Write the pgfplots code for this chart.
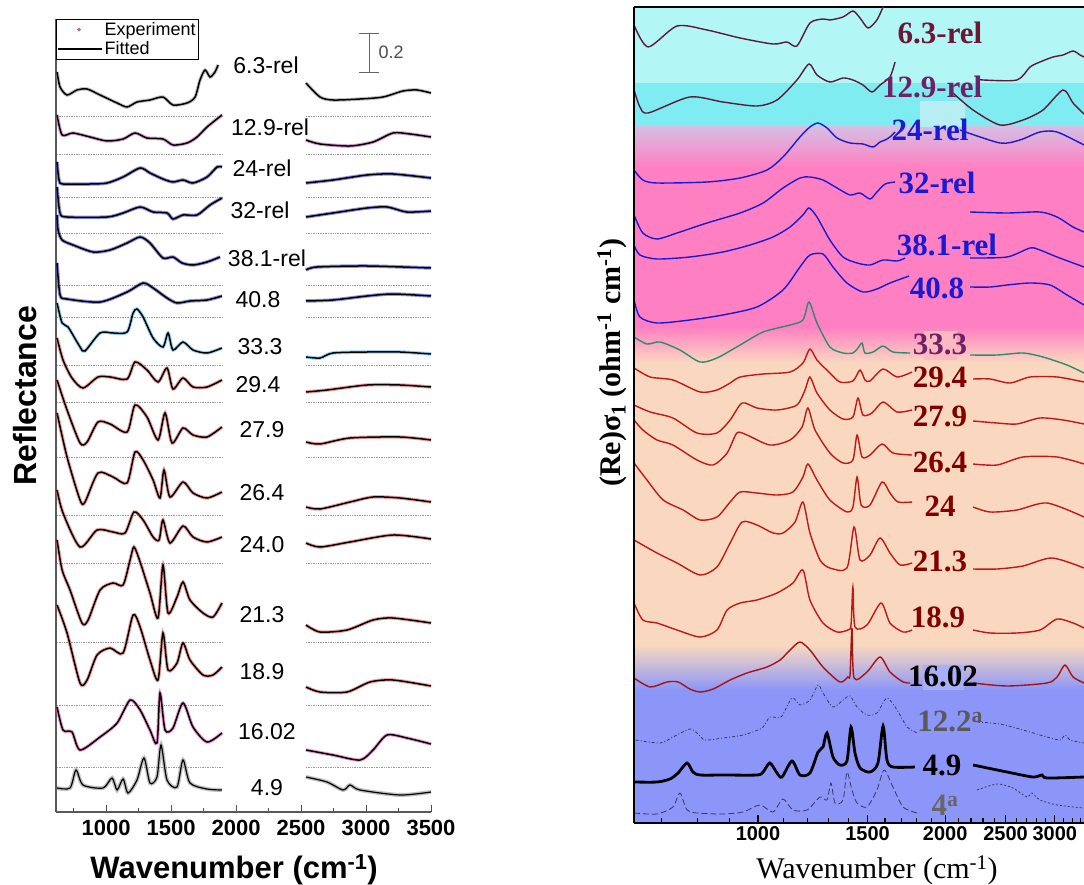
\documentclass[border=0pt]{standalone}
\usepackage{fontspec}
\usepackage{pgfplots}
\usepackage{pgfplotstable}
\pgfplotsset{compat=1.18}
\newfontfamily\arial{Liberation Sans}
\newfontfamily\tnr{Liberation Serif}

% background bands (right panel)
\definecolor{cyanA}{RGB}{178,246,246}
\definecolor{cyanB}{RGB}{126,236,240}
\definecolor{lav}{RGB}{214,190,226}
\definecolor{pinkbg}{RGB}{255,128,194}
\definecolor{peach}{RGB}{250,216,192}
\definecolor{bluebg}{RGB}{140,150,248}
% curve colours
\definecolor{maroon}{RGB}{92,26,58}
\definecolor{plum}{RGB}{112,32,100}
\definecolor{rblue}{RGB}{26,26,210}
\definecolor{rgreen}{RGB}{46,139,110}
\definecolor{rred}{RGB}{192,24,24}
\definecolor{dred}{RGB}{128,0,0}
\definecolor{slate}{RGB}{55,55,95}
\definecolor{expgray}{RGB}{150,150,150}
\definecolor{exppink}{RGB}{190,100,170}
\definecolor{expblue}{RGB}{70,70,200}
\definecolor{expcyan}{RGB}{80,180,230}
\definecolor{expred}{RGB}{230,100,100}
\definecolor{expmag}{RGB}{230,90,180}

\newcommand\lfont{\arial\fontsize{23}{23}\selectfont}
\newcommand\rfont{\tnr\bfseries\fontsize{31}{31}\selectfont}

% ---- left panel: reflectance (x in cm^-1, y in offset units) ----
\pgfplotstableread{
w y
623 -72
646 -87
700 -95
777 -90
854 -89
954 -95
1085 -103
1162 -107
1238 -102
1338 -100
1438 -97
1515 -105
1623 -103
1685 -97
1723 -80
1762 -70
1800 -77
1838 -72
1862 -65
nan nan
2538 -83
2646 -97
2746 -100
2954 -99
3131 -97
3285 -91
3392 -90
3500 -93
}\tA
\pgfplotstableread{
w y
623 -115
662 -135
746 -133
877 -137
1008 -141
1131 -139
1223 -133
1315 -138
1438 -139
1515 -145
1623 -143
1700 -137
1777 -127
1892 -115
nan nan
2538 -140
2646 -144
2877 -146
3054 -142
3208 -133
3338 -134
3500 -137
}\tB
\pgfplotstableread{
w y
623 -162
638 -180
669 -184
877 -184
1008 -183
1131 -177
1262 -168
1338 -173
1438 -179
1515 -182
1592 -180
1669 -183
1777 -177
1854 -167
1892 -167
nan nan
2538 -183
2746 -180
3008 -175
3208 -174
3500 -178
}\tC
\pgfplotstableread{
w y
623 -187
646 -213
700 -217
1008 -217
1131 -213
1262 -207
1362 -212
1469 -213
1515 -219
1592 -215
1700 -215
1800 -205
1892 -198
nan nan
2538 -217
2746 -213
3008 -208
3162 -207
3315 -212
3500 -211
}\tD
\pgfplotstableread{
w y
623 -215
631 -230
662 -240
746 -245
900 -252
1031 -250
1162 -243
1262 -237
1338 -243
1438 -258
1515 -257
1585 -263
1669 -265
1777 -262
1877 -257
nan nan
2538 -270
2623 -267
3008 -266
3500 -268
}\tE
\pgfplotstableread{
w y
623 -263
646 -295
700 -299
954 -302
1162 -292
1285 -283
1362 -288
1469 -298
1546 -303
1646 -301
1777 -300
1892 -296
nan nan
2538 -301
2746 -300
3008 -296
3208 -294
3500 -296
}\tF
\pgfplotstableread{
w y
623 -303
662 -323
708 -327
800 -347
838 -351
954 -333
1054 -333
1162 -332
1208 -313
1238 -309
1285 -317
1362 -338
1438 -347
1477 -333
1515 -350
1592 -342
1669 -350
1777 -353
1892 -348
nan nan
2538 -357
2646 -358
2746 -353
3008 -352
3262 -352
3500 -354
}\tG
\pgfplotstableread{
w y
623 -338
669 -360
738 -378
823 -388
938 -377
1031 -377
1162 -379
1223 -362
1315 -370
1400 -382
1469 -368
1515 -389
1592 -378
1669 -387
1777 -387
1892 -380
nan nan
2538 -392
2700 -390
3008 -385
3262 -385
3500 -387
}\tH
\pgfplotstableread{
w y
623 -380
700 -410
800 -443
854 -442
938 -422
1031 -424
1162 -432
1223 -405
1315 -417
1400 -440
1454 -413
1508 -443
1592 -428
1669 -435
1777 -437
1892 -427
nan nan
2538 -442
2646 -444
2877 -438
3262 -437
3500 -440
}\tI
\pgfplotstableread{
w y
623 -413
700 -457
800 -500
838 -502
938 -473
1054 -477
1162 -483
1223 -452
1285 -460
1362 -480
1415 -498
1446 -470
1492 -497
1592 -482
1669 -493
1777 -498
1892 -492
nan nan
2538 -507
2646 -509
2877 -502
3054 -497
3262 -498
3500 -502
}\tJ
\pgfplotstableread{
w y
623 -490
669 -513
800 -547
931 -530
1054 -532
1146 -533
1215 -512
1285 -520
1362 -537
1408 -540
1438 -520
1492 -543
1592 -526
1669 -537
1777 -542
1892 -537
nan nan
2538 -543
2646 -547
2877 -542
3208 -535
3500 -539
}\tK
\pgfplotstableread{
w y
623 -540
662 -570
723 -590
815 -623
862 -620
954 -590
1054 -583
1131 -585
1185 -560
1215 -547
1262 -562
1338 -593
1400 -618
1438 -565
1477 -613
1546 -597
1592 -582
1646 -600
1746 -613
1823 -617
1892 -603
nan nan
2538 -625
2646 -632
2854 -630
3054 -620
3208 -618
3500 -623
}\tL
\pgfplotstableread{
w y
623 -605
700 -633
800 -683
854 -680
931 -655
1031 -648
1131 -653
1208 -615
1262 -627
1338 -660
1400 -680
1438 -633
1477 -670
1546 -663
1592 -643
1646 -660
1746 -675
1823 -675
1892 -667
nan nan
2538 -687
2646 -692
2854 -692
3031 -682
3208 -680
3500 -686
}\tM
\pgfplotstableread{
w y
623 -707
669 -730
738 -732
800 -750
954 -737
1085 -723
1185 -700
1262 -710
1338 -730
1392 -743
1415 -693
1454 -730
1515 -728
1592 -703
1669 -727
1777 -742
1892 -733
nan nan
2538 -750
2746 -755
2954 -760
3054 -750
3162 -735
3315 -738
3500 -744
}\tN
\pgfplotstableread{
w y
623 -788
723 -788
769 -770
823 -785
977 -788
1046 -778
1085 -790
1131 -779
1169 -793
1238 -780
1292 -758
1338 -783
1392 -777
1423 -745
1469 -780
1546 -787
1592 -760
1646 -783
1777 -789
1892 -790
nan nan
2538 -777
2700 -782
2823 -790
2877 -785
2954 -790
3262 -795
3500 -792
}\tO

\pgfplotsset{
  expl/.style={line width=3.5pt, opacity=0.6, forget plot, smooth, tension=0.45},
  fitl/.style={black, line width=1.5pt, forget plot, smooth, tension=0.45},
  rc/.style={line width=1.4pt, smooth, tension=0.45},
}

\begin{document}
\begin{tikzpicture}
\useasboundingbox (0pt,0pt) rectangle (1084pt,-885pt);

% ===================== LEFT: Reflectance =====================
\begin{axis}[
    at={(56pt,-812pt)}, anchor=south west,
    scale only axis, width=375pt, height=793pt,
    xmin=615, xmax=3500, ymin=-812, ymax=-19,
    axis x line=bottom, axis y line=left,
    axis line style={-, line width=1.4pt, black!65},
    ytick=\empty,
    xtick={1000,1500,2000,2500,3000,3500},
    xticklabels={1000,1500,2000,2500,3000,3500},
    minor xtick={750,1250,1750,2250,2750,3250},
    tick align=inside, major tick length=7pt, minor tick length=4pt,
    every tick/.style={black!70, line width=1pt},
    xticklabel style={font=\arial\bfseries\fontsize{22}{22}\selectfont, yshift=-5pt},
    xlabel={Wavenumber (cm\textsuperscript{-1})},
    xlabel style={font=\arial\bfseries\fontsize{31}{31}\selectfont,
        at={(axis description cs:0.475,0)}, anchor=center, yshift=-58pt},
    ylabel={Reflectance},
    ylabel style={font=\arial\bfseries\fontsize{32}{32}\selectfont,
        at={(axis description cs:-0.083,0.525)}, anchor=center},
    unbounded coords=jump,
    legend style={at={(0,1)}, anchor=north west, draw=black, line width=0.6pt,
        font=\arial\fontsize{18}{18}\selectfont, inner xsep=1pt, inner ysep=1pt,
        row sep=1pt, cells={anchor=west}},
    legend cell align=left,
]
\pgfplotsinvokeforeach{-116,-154,-197,-233,-285,-317,-365,-402,-457,-515,-563,-642,-705,-767}{
  \draw[black!40, densely dotted, line width=0.7pt]
    (axis cs:623,#1) -- (axis cs:1892,#1) (axis cs:2538,#1) -- (axis cs:3500,#1);
}
\addlegendimage{legend image code/.code={\fill[exppink] (21pt,0pt) circle (1.6pt);}}
\addlegendentry{Experiment}
\addlegendimage{legend image code/.code={\draw[black, line width=1.4pt] (0pt,0pt) -- (44pt,0pt);}}
\addlegendentry{Fitted}

\addplot[expl, expgray] table {\tA};
\addplot[fitl] table {\tA};
\addplot[expl, exppink] table {\tB};
\addplot[fitl] table {\tB};
\addplot[expl, expblue] table {\tC};
\addplot[fitl] table {\tC};
\addplot[expl, expblue] table {\tD};
\addplot[fitl] table {\tD};
\addplot[expl, expblue] table {\tE};
\addplot[fitl] table {\tE};
\addplot[expl, expblue] table {\tF};
\addplot[fitl] table {\tF};
\addplot[expl, expcyan] table {\tG};
\addplot[fitl] table {\tG};
\addplot[expl, expred] table {\tH};
\addplot[fitl] table {\tH};
\addplot[expl, expred] table {\tI};
\addplot[fitl] table {\tI};
\addplot[expl, expred] table {\tJ};
\addplot[fitl] table {\tJ};
\addplot[expl, expred] table {\tK};
\addplot[fitl] table {\tK};
\addplot[expl, expred] table {\tL};
\addplot[fitl] table {\tL};
\addplot[expl, expred] table {\tM};
\addplot[fitl] table {\tM};
\addplot[expl, expmag] table {\tN};
\addplot[fitl] table {\tN};
\addplot[expl, expgray, line width=4pt] table {\tO};
\addplot[fitl, line width=1.2pt] table {\tO};

% scale bar
\draw[black!60, line width=1pt] (axis cs:3023,-34) -- (axis cs:3023,-73)
   (axis cs:2946,-34) -- (axis cs:3100,-34) (axis cs:2946,-73) -- (axis cs:3100,-73);
\node[anchor=west, text=black!70, font=\arial\fontsize{18}{18}\selectfont] at (axis cs:3070,-52) {0.2};

\node[font=\lfont] at (axis cs:2231,-65) {6.3-rel};
\node[font=\lfont] at (axis cs:2262,-127) {12.9-rel};
\node[font=\lfont] at (axis cs:2200,-168) {24-rel};
\node[font=\lfont] at (axis cs:2185,-210) {32-rel};
\node[font=\lfont] at (axis cs:2238,-258) {38.1-rel};
\node[font=\lfont] at (axis cs:2169,-300) {40.8};
\node[font=\lfont] at (axis cs:2185,-347) {33.3};
\node[font=\lfont] at (axis cs:2169,-385) {29.4};
\node[font=\lfont] at (axis cs:2200,-430) {27.9};
\node[font=\lfont] at (axis cs:2200,-493) {26.4};
\node[font=\lfont] at (axis cs:2200,-545) {24.0};
\node[font=\lfont] at (axis cs:2200,-615) {21.3};
\node[font=\lfont] at (axis cs:2200,-672) {18.9};
\node[font=\lfont] at (axis cs:2238,-732) {16.02};
\node[font=\lfont] at (axis cs:2238,-788) {4.9};
\end{axis}

% ===================== RIGHT: conductivity =====================
\begin{axis}[
    at={(634pt,-823pt)}, anchor=south west,
    scale only axis, width=450pt, height=816pt,
    xmode=log, xmin=632, xmax=3343, ymin=-823, ymax=-7,
    axis x line=bottom, axis y line=left, axis on top,
    axis line style={-, line width=1.6pt, black},
    ytick=\empty,
    xtick={1000,1500,2000,2500,3000},
    xticklabel={\pgfmathtruncatemacro\tv{round(exp(\tick))}\tv},
    minor xtick={700,800,900,1100,1200,1300,1400,1600,1700,1800,1900,2100,2200,2300,2400,2600,2700,2800,2900,3100,3200,3300},
    tick align=inside, major tick length=8pt, minor tick length=5pt,
    every tick/.style={black, line width=1.2pt},
    xticklabel style={font=\arial\bfseries\fontsize{20}{20}\selectfont},
    xlabel={Wavenumber (cm\textsuperscript{-1})},
    xlabel style={font=\tnr\fontsize{30}{30}\selectfont,
        at={(axis description cs:0.54,0)}, anchor=center, yshift=-47pt},
    ylabel={(Re)σ\textsubscript{1} (ohm\textsuperscript{-1} cm\textsuperscript{-1})},
    ylabel style={font=\tnr\bfseries\fontsize{30}{30}\selectfont,
        at={(axis description cs:-0.049,0.564)}, anchor=center},
]
% background bands
\fill[cyanA] (axis cs:600,-5) rectangle (axis cs:3400,-83);
\fill[cyanB] (axis cs:600,-83) rectangle (axis cs:3400,-127);
\shade[top color=lav, bottom color=pinkbg] (axis cs:600,-127) rectangle (axis cs:3400,-167);
\fill[pinkbg] (axis cs:600,-167) rectangle (axis cs:3400,-327);
\shade[top color=pinkbg, bottom color=peach] (axis cs:600,-327) rectangle (axis cs:3400,-363);
\fill[peach] (axis cs:600,-363) rectangle (axis cs:3400,-645);
\shade[top color=peach, bottom color=bluebg] (axis cs:600,-645) rectangle (axis cs:3400,-690);
\fill[bluebg] (axis cs:600,-690) rectangle (axis cs:3400,-825);
% lighter patches left behind some labels
\fill[cyanA!85!lav] (axis cs:1820,-101) rectangle (axis cs:2150,-127);
\fill[pinkbg!35!peach] (axis cs:1850,-331) rectangle (axis cs:2090,-360);
\fill[bluebg!75!white] (axis cs:1840,-665) rectangle (axis cs:2140,-690);
\draw[line width=1.6pt] (rel axis cs:0,1) -- (rel axis cs:1,1);

% 6.3-rel
\addplot[rc, maroon] coordinates {(632,-25) (666,-47) (741,-26) (828,-30) (936,-38) (1057,-44) (1113,-42) (1155,-46) (1212,-23) (1272,-19) (1305,-20) (1370,-17) (1421,-11) (1459,-18) (1503,-28) (1553,-20) (1589,-7) (1610,0)};
\addplot[rc, maroon] coordinates {(2276,-79) (2301,-80) (2608,-80) (2737,-67) (2840,-62) (2981,-57) (3093,-55) (3210,-51) (3294,-55) (3343,-57)};
% 12.9-rel
\addplot[rc, maroon] coordinates {(632,-90) (646,-107) (666,-113) (777,-97) (878,-102) (996,-106) (1073,-100) (1155,-80) (1208,-64) (1244,-75) (1305,-82) (1370,-78) (1421,-80) (1475,-85) (1525,-92) (1571,-85) (1630,-77) (1661,-62)};
\addplot[rc, maroon] coordinates {(2058,-93) (2217,-110) (2449,-125) (2667,-120) (2872,-110) (3093,-90) (3210,-103) (3343,-114)};
% 24-rel
\addplot[rc, rblue] coordinates {(632,-170) (653,-180) (688,-183) (828,-182) (936,-178) (1034,-170) (1097,-157) (1168,-137) (1212,-127) (1249,-123) (1291,-128) (1340,-138) (1406,-143) (1475,-144) (1531,-147) (1571,-142) (1601,-140) (1630,-137) (1661,-132)};
\addplot[rc, rblue] coordinates {(2113,-130) (2449,-143) (2637,-140) (2840,-132) (3025,-132) (3343,-145)};
% 32-rel
\addplot[rc, rblue] coordinates {(632,-215) (653,-233) (688,-239) (741,-233) (828,-223) (936,-213) (1019,-203) (1097,-188) (1168,-178) (1212,-177) (1272,-180) (1340,-188) (1406,-195) (1459,-193) (1514,-199) (1553,-192) (1601,-184) (1661,-182)};
\addplot[rc, rblue] coordinates {(2193,-212) (2514,-213) (2840,-212) (3025,-217) (3210,-227) (3343,-232)};
% 38.1-rel
\addplot[rc, rblue] coordinates {(632,-245) (646,-255) (688,-259) (777,-257) (878,-252) (971,-245) (1057,-237) (1126,-227) (1181,-215) (1208,-208) (1244,-217) (1305,-240) (1370,-257) (1443,-263) (1514,-265) (1589,-260) (1673,-261) (1724,-258)};
\addplot[rc, rblue] coordinates {(2193,-258) (2514,-257) (2737,-248) (2840,-250) (3025,-257) (3343,-267)};
% 40.8
\addplot[rc, rblue] coordinates {(632,-300) (646,-317) (688,-323) (777,-320) (878,-315) (996,-307) (1097,-290) (1168,-267) (1212,-255) (1272,-254) (1320,-267) (1390,-283) (1475,-292) (1553,-289) (1630,-283) (1750,-276)};
\addplot[rc, rblue] coordinates {(2193,-287) (2361,-287) (2514,-285) (2737,-283) (2948,-285) (3139,-295) (3343,-305)};
% 33.3
\addplot[rc, rgreen] coordinates {(632,-337) (663,-344) (696,-342) (749,-350) (807,-362) (859,-358) (936,-345) (1019,-332) (1126,-325) (1181,-320) (1208,-302) (1244,-323) (1305,-347) (1370,-353) (1421,-353) (1448,-348) (1470,-343) (1486,-353) (1531,-352) (1589,-346) (1648,-352) (1756,-353)};
\addplot[rc, rgreen] coordinates {(2193,-355) (2423,-355) (2667,-353) (2872,-357) (3139,-365) (3343,-373)};
% 29.4
\addplot[rc, rred] coordinates {(632,-368) (671,-377) (730,-380) (807,-392) (859,-390) (902,-383) (936,-377) (1019,-374) (1126,-372) (1181,-363) (1212,-349) (1244,-360) (1305,-373) (1354,-382) (1421,-381) (1459,-370) (1486,-380) (1514,-381) (1589,-369) (1673,-377) (1769,-372)};
\addplot[rc, rred] coordinates {(2217,-379) (2361,-379) (2542,-383) (2737,-377) (3025,-377) (3343,-382)};
% 27.9
\addplot[rc, rred] coordinates {(632,-405) (671,-412) (730,-418) (798,-433) (859,-433) (902,-420) (943,-403) (996,-408) (1073,-410) (1155,-405) (1190,-390) (1212,-377) (1244,-393) (1305,-410) (1370,-419) (1421,-417) (1448,-398) (1475,-415) (1525,-413) (1589,-402) (1673,-412) (1769,-410)};
\addplot[rc, rred] coordinates {(2217,-421) (2423,-423) (2608,-424) (2840,-418) (3093,-420) (3343,-424)};
% 26.4
\addplot[rc, rred] coordinates {(632,-420) (653,-430) (688,-440) (730,-445) (798,-460) (847,-465) (892,-453) (925,-433) (960,-435) (1045,-445) (1126,-440) (1177,-427) (1203,-408) (1235,-430) (1305,-453) (1370,-463) (1421,-460) (1443,-435) (1470,-457) (1514,-455) (1583,-444) (1648,-453) (1769,-455)};
\addplot[rc, rred] coordinates {(2217,-464) (2423,-465) (2667,-457) (3025,-457) (3343,-464)};
% 24
\addplot[rc, rred] coordinates {(632,-463) (663,-480) (704,-500) (758,-510) (807,-520) (859,-517) (902,-502) (936,-492) (996,-493) (1073,-495) (1138,-492) (1181,-477) (1203,-464) (1244,-480) (1305,-500) (1390,-512) (1421,-507) (1443,-477) (1465,-505) (1514,-505) (1583,-482) (1630,-493) (1679,-502) (1769,-502)};
\addplot[rc, rred] coordinates {(2217,-507) (2361,-512) (2608,-510) (2915,-503) (3343,-517)};
% 21.3
\addplot[rc, rred] coordinates {(632,-540) (688,-553) (741,-563) (807,-575) (859,-567) (902,-543) (943,-522) (996,-525) (1057,-533) (1097,-533) (1147,-522) (1181,-502) (1212,-533) (1258,-560) (1305,-568) (1390,-568) (1427,-527) (1459,-560) (1514,-555) (1571,-538) (1630,-553) (1692,-565) (1769,-563)};
\addplot[rc, rred] coordinates {(2217,-569) (2423,-569) (2667,-566) (2970,-558) (3343,-568)};
% 18.9
\addplot[rc, rred] coordinates {(632,-603) (653,-620) (688,-623) (741,-630) (807,-637) (859,-630) (892,-610) (936,-603) (996,-600) (1073,-593) (1138,-583) (1181,-570) (1212,-600) (1272,-623) (1340,-632) (1395,-630) (1411,-625) (1421,-587) (1432,-627) (1497,-625) (1577,-603) (1630,-623) (1711,-632) (1769,-630)};
\addplot[rc, rred] coordinates {(2217,-630) (2361,-633) (2608,-633) (2840,-630) (3025,-619) (3210,-623) (3343,-628)};
% 16.02
\addplot[rc, rred!85!black] coordinates {(632,-678) (671,-687) (714,-682) (744,-682) (777,-689) (807,-692) (847,-689) (902,-680) (960,-673) (1034,-667) (1085,-660) (1126,-650) (1168,-642) (1212,-650) (1272,-667) (1354,-682) (1395,-677) (1406,-675) (1416,-628) (1427,-678) (1497,-672) (1571,-657) (1630,-672) (1711,-682) (1756,-683)};
\addplot[rc, rred!85!black] coordinates {(2217,-683) (2514,-686) (2915,-683) (3025,-677) (3116,-665) (3210,-677) (3343,-683)};
% 12.2a
\addplot[rc, slate, line width=0.8pt, dash pattern=on 3pt off 2pt on 1pt off 2pt] coordinates {(636,-740) (696,-743) (730,-737) (777,-729) (798,-733) (822,-740) (878,-738) (946,-735) (1015,-728) (1045,-717) (1089,-717) (1134,-698) (1168,-705) (1212,-700) (1249,-685) (1272,-693) (1320,-707) (1370,-700) (1406,-696) (1443,-707) (1497,-715) (1553,-713) (1612,-698) (1673,-710) (1737,-727) (1802,-733)};
\addplot[rc, slate, line width=0.8pt, dash pattern=on 3pt off 2pt on 1pt off 2pt] coordinates {(2250,-722) (2449,-724) (2667,-730) (2915,-737) (3059,-740) (3116,-735) (3174,-740) (3343,-743)};
% 4.9
\addplot[rc, black, line width=2.8pt] coordinates {(632,-782) (688,-782) (722,-779) (744,-773) (769,-763) (786,-772) (807,-775) (878,-775) (996,-775) (1019,-772) (1045,-763) (1073,-773) (1093,-777) (1134,-761) (1168,-775) (1212,-773) (1249,-752) (1272,-747) (1291,-733) (1320,-757) (1354,-765) (1390,-761) (1411,-727) (1432,-753) (1459,-768) (1514,-772) (1559,-763) (1589,-726) (1612,-760) (1648,-767) (1788,-767)};
\addplot[rc, black, line width=2.8pt] coordinates {(2217,-765) (2514,-772) (2767,-777) (2862,-775) (2915,-778) (3343,-777)};
% 4a
\addplot[rc, slate, line width=0.8pt, dash pattern=on 6pt off 3pt] coordinates {(632,-813) (688,-814) (730,-807) (749,-793) (769,-810) (798,-813) (878,-814) (946,-812) (1007,-805) (1057,-812) (1097,-799) (1138,-810) (1199,-810) (1258,-797) (1291,-800) (1310,-783) (1330,-803) (1370,-800) (1390,-772) (1416,-790) (1443,-803) (1497,-807) (1553,-790) (1595,-770) (1648,-787) (1711,-807) (1802,-813)};
\addplot[rc, slate, line width=0.8pt, dash pattern=on 2pt off 2pt] coordinates {(2250,-790) (2423,-784) (2570,-788) (2706,-797) (2757,-793) (2840,-800) (3025,-805) (3343,-808)};

\node[font=\rfont, text=maroon!90!red] at (axis cs:1962,-33) {6.3-rel};
\node[font=\rfont, text=plum] at (axis cs:1905,-87) {12.9-rel};
\node[font=\rfont, text=rblue] at (axis cs:1891,-130) {24-rel};
\node[font=\rfont, text=rblue] at (axis cs:1940,-183) {32-rel};
\node[font=\rfont, text=rblue] at (axis cs:2013,-245) {38.1-rel};
\node[font=\rfont, text=rblue] at (axis cs:1940,-288) {40.8};
\node[font=\rfont, text=plum] at (axis cs:1962,-344) {33.3};
\node[font=\rfont, text=dred] at (axis cs:1962,-377) {29.4};
\node[font=\rfont, text=dred] at (axis cs:1962,-416) {27.9};
\node[font=\rfont, text=dred] at (axis cs:1962,-462) {26.4};
\node[font=\rfont, text=dred] at (axis cs:1962,-506) {24};
\node[font=\rfont, text=dred] at (axis cs:1962,-561) {21.3};
\node[font=\rfont, text=dred] at (axis cs:1947,-617) {18.9};
\node[font=\rfont, text=black] at (axis cs:1984,-676) {16.02};
\node[font=\rfont, text=black!65] at (axis cs:2036,-721) {12.2\textsuperscript{a}};
\node[font=\rfont, text=black] at (axis cs:1977,-765) {4.9};
\node[font=\rfont, text=black!60] at (axis cs:1998,-805) {4\textsuperscript{a}};
\end{axis}
\end{tikzpicture}
\end{document}
